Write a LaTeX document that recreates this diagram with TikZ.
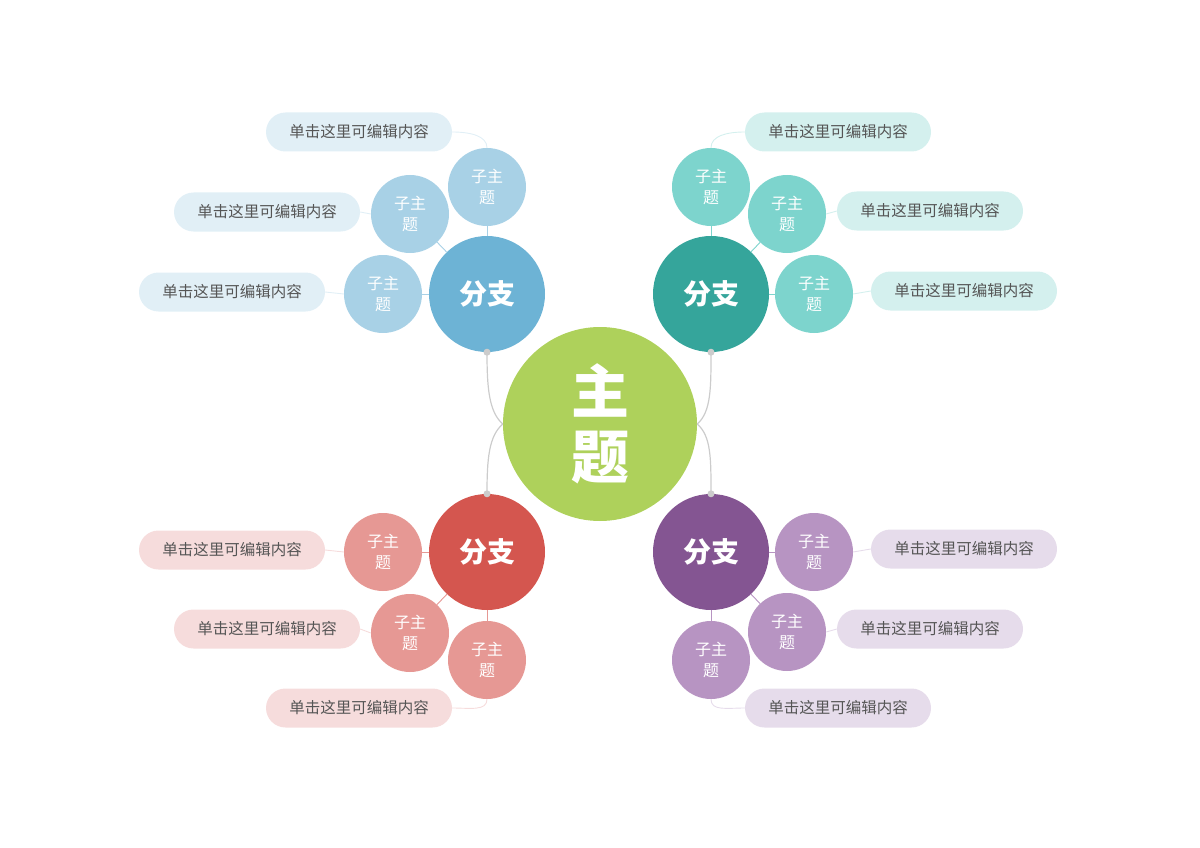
\documentclass[tikz,border=0pt]{standalone}
\usepackage{fontspec}
\newfontfamily\cjk{Noto Sans CJK SC}
\usepackage{xcolor}
\usepackage{tikz}
\usetikzlibrary{arrows.meta}

\definecolor{maingreen}{HTML}{AED15B}
\definecolor{blueB}{HTML}{6DB3D5}
\definecolor{blueS}{HTML}{A8D1E6}
\definecolor{blueP}{HTML}{E1EFF6}
\definecolor{tealB}{HTML}{35A59B}
\definecolor{tealS}{HTML}{7DD4CD}
\definecolor{tealP}{HTML}{D4F0EE}
\definecolor{redB}{HTML}{D4564F}
\definecolor{redS}{HTML}{E69894}
\definecolor{redP}{HTML}{F6DCDC}
\definecolor{purpB}{HTML}{845592}
\definecolor{purpS}{HTML}{B794C2}
\definecolor{purpP}{HTML}{E6DCEB}
\definecolor{labeltext}{HTML}{555555}
\definecolor{linkgray}{HTML}{CCCCCC}

\begin{document}
\begin{tikzpicture}[x=1pt, y=-1pt,
        topic/.style={circle, inner sep=0pt, minimum size=194pt, fill=maingreen, text=white, align=center, font=\cjk\bfseries\fontsize{58}{65}\selectfont},
        branch/.style={circle, inner sep=0pt, minimum size=116pt, text=white, font=\cjk\bfseries\fontsize{28}{30}\selectfont},
        sub/.style={circle, inner sep=0pt, minimum size=78pt, text=white, align=center, font=\cjk\fontsize{16}{21}\selectfont},
        pill/.style={rectangle, rounded corners=19.5pt, inner sep=0pt, minimum width=186pt, minimum height=39pt, text=labeltext, font=\cjk\fontsize{15.5}{18}\selectfont},
        link/.style={draw=linkgray, line width=1.2pt},
        thin/.style={line width=0.9pt}]

        \useasboundingbox (0,0) rectangle (1200,848);

        % Nodes
        \node[topic] (main) at (600,424) {主\\题};

        \node[branch, fill=blueB] (bl) at (487,294) {分支};
        \node[branch, fill=tealB] (bt) at (711,294) {分支};
        \node[branch, fill=redB] (br) at (487,552) {分支};
        \node[branch, fill=purpB] (bp) at (711,552) {分支};

        \node[sub, fill=blueS] (bl1) at (487,187) {子主\\题};
        \node[sub, fill=blueS] (bl2) at (410,214) {子主\\题};
        \node[sub, fill=blueS] (bl3) at (383,294) {子主\\题};
        \node[sub, fill=tealS] (bt1) at (711,187) {子主\\题};
        \node[sub, fill=tealS] (bt2) at (787,214) {子主\\题};
        \node[sub, fill=tealS] (bt3) at (814,294) {子主\\题};
        \node[sub, fill=redS] (br1) at (383,552) {子主\\题};
        \node[sub, fill=redS] (br2) at (410,633) {子主\\题};
        \node[sub, fill=redS] (br3) at (487,660) {子主\\题};
        \node[sub, fill=purpS] (bp1) at (814,552) {子主\\题};
        \node[sub, fill=purpS] (bp2) at (787,632) {子主\\题};
        \node[sub, fill=purpS] (bp3) at (711,660) {子主\\题};

        \node[pill, fill=blueP] (pl1) at (359,132) {单击这里可编辑内容};
        \node[pill, fill=blueP] (pl2) at (267,212) {单击这里可编辑内容};
        \node[pill, fill=blueP] (pl3) at (232,292) {单击这里可编辑内容};
        \node[pill, fill=tealP] (pt1) at (838,132) {单击这里可编辑内容};
        \node[pill, fill=tealP] (pt2) at (930,211) {单击这里可编辑内容};
        \node[pill, fill=tealP] (pt3) at (964,291) {单击这里可编辑内容};
        \node[pill, fill=redP] (pr1) at (232,550) {单击这里可编辑内容};
        \node[pill, fill=redP] (pr2) at (267,629) {单击这里可编辑内容};
        \node[pill, fill=redP] (pr3) at (359,708) {单击这里可编辑内容};
        \node[pill, fill=purpP] (pp1) at (964,549) {单击这里可编辑内容};
        \node[pill, fill=purpP] (pp2) at (930,629) {单击这里可编辑内容};
        \node[pill, fill=purpP] (pp3) at (838,708) {单击这里可编辑内容};

        % Edges
        \draw[link] (main.west) .. controls +(-14,-12) and +(0,35) .. (bl.south);
        \draw[link] (main.west) .. controls +(-14,12) and +(0,-35) .. (br.north);
        \draw[link] (main.east) .. controls +(14,-12) and +(0,35) .. (bt.south);
        \draw[link] (main.east) .. controls +(14,12) and +(0,-35) .. (bp.north);
        \foreach \b in {bl.south, br.north, bt.south, bp.north}
            \fill[linkgray] (\b) circle (3.5pt);

        \draw[thin, draw=blueS] (bl) -- (bl1);
        \draw[thin, draw=blueS] (bl) -- (bl2);
        \draw[thin, draw=blueS] (bl) -- (bl3);
        \draw[thin, draw=tealS] (bt) -- (bt1);
        \draw[thin, draw=tealS] (bt) -- (bt2);
        \draw[thin, draw=tealS] (bt) -- (bt3);
        \draw[thin, draw=redS] (br) -- (br1);
        \draw[thin, draw=redS] (br) -- (br2);
        \draw[thin, draw=redS] (br) -- (br3);
        \draw[thin, draw=purpS] (bp) -- (bp1);
        \draw[thin, draw=purpS] (bp) -- (bp2);
        \draw[thin, draw=purpS] (bp) -- (bp3);

        \draw[thin, draw=blueP] (bl1.north) .. controls +(0,-12) and +(18,0) .. (pl1.east);
        \draw[thin, draw=blueP] (bl2.west) -- (pl2.east);
        \draw[thin, draw=blueP] (bl3.west) -- (pl3.east);
        \draw[thin, draw=tealP] (bt1.north) .. controls +(0,-12) and +(-18,0) .. (pt1.west);
        \draw[thin, draw=tealP] (bt2.east) -- (pt2.west);
        \draw[thin, draw=tealP] (bt3.east) -- (pt3.west);
        \draw[thin, draw=redP] (br1.west) -- (pr1.east);
        \draw[thin, draw=redP] (br2.west) -- (pr2.east);
        \draw[thin, draw=redP] (br3.south) .. controls +(0,12) and +(18,0) .. (pr3.east);
        \draw[thin, draw=purpP] (bp1.east) -- (pp1.west);
        \draw[thin, draw=purpP] (bp2.east) -- (pp2.west);
        \draw[thin, draw=purpP] (bp3.south) .. controls +(0,12) and +(-18,0) .. (pp3.west);
    \end{tikzpicture}
\end{document}
